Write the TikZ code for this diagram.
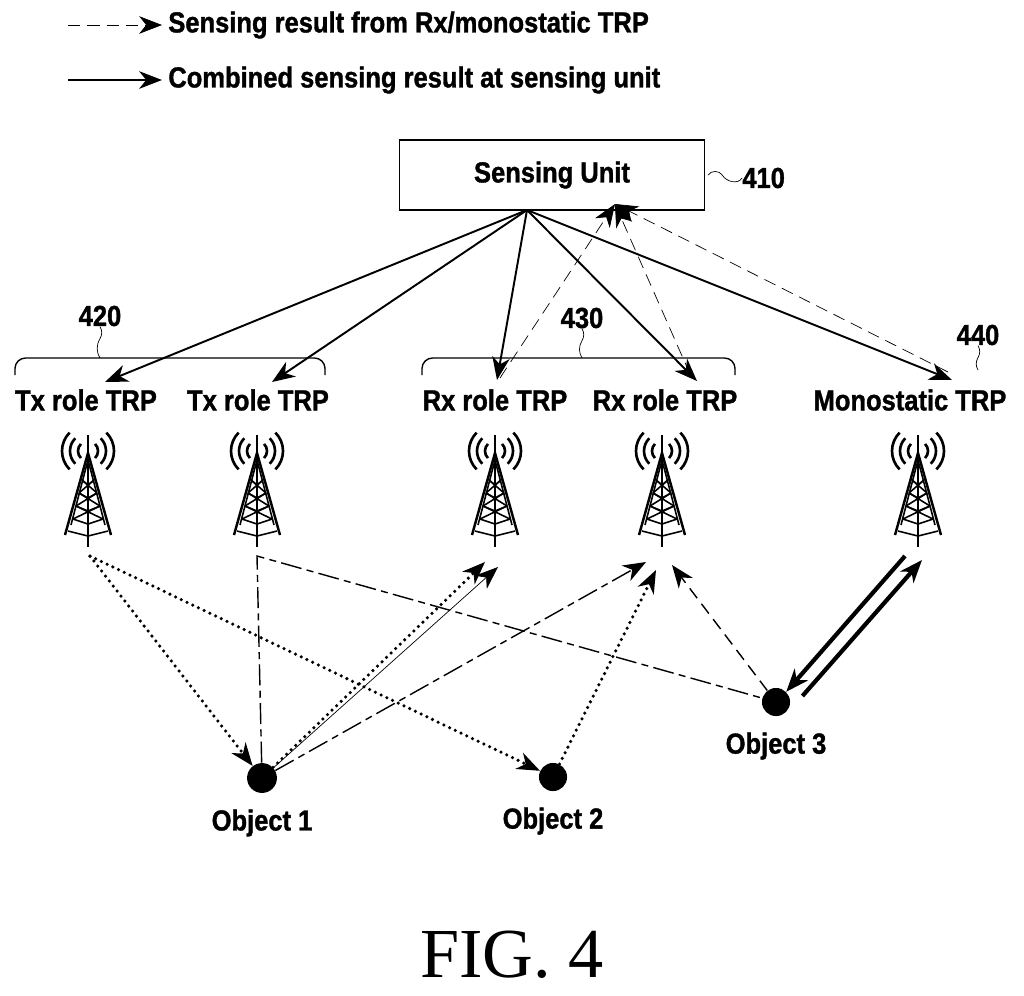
\documentclass[tikz,border=0pt]{standalone}
\usepackage{fontspec}
\setmainfont{Liberation Sans}[FakeStretch=0.88,FakeBold=1.2]
\newfontfamily\figfont{Liberation Serif}
\usetikzlibrary{arrows.meta,positioning}
\begin{document}
\begin{tikzpicture}
    [x=0.02cm,y=-0.02cm,
     lbl/.style={font=\bfseries\fontsize{16.5}{18}\selectfont,inner sep=0pt},
     tip/.style={-{Stealth[length=13pt,width=10pt,inset=4pt]}},
     comb/.style={tip,line width=1.1pt},
     rep/.style={tip,dash pattern=on 7pt off 4pt},
     dots/.style={tip,line width=2pt,dash pattern=on 0pt off 3.6pt,line cap=round},
     dashdot/.style={thick,dash pattern=on 12pt off 3pt on 4pt off 3pt},
     obj/.style={circle,fill=black,minimum size=16pt,inner sep=0pt},
     bracket/.style={thick,rounded corners=6pt},
     pics/tower/.style={code={
       \draw[line width=1.1pt] (0,0) -- (0,112);
       \draw[line width=1.4pt] (-23,100) -- (0,18) -- (23,100);
       \draw[line width=0.9pt] (-17,90) -- (0,25) -- (17,90);
       \foreach \h/\w in {45/6,58/9,71/12,84/15,96/20}
         \draw[line width=0.9pt] (-\w,\h) -- (0,\h+5) -- (\w,\h);
       \draw[line width=0.9pt] (-6,45) -- (9,58) (6,45) -- (-9,58)
         (-9,58) -- (12,71) (9,58) -- (-12,71) (-12,71) -- (15,84) (12,71) -- (-15,84);
       \foreach \r in {10,18,26} {
         \draw[line width=1.5pt] (0,16) ++(45:\r) arc (45:-45:\r);
         \draw[line width=1.5pt] (0,16) ++(135:\r) arc (135:225:\r);}
     }}]
    \useasboundingbox (0,0) rectangle (1024,995);
    % legend
    \coordinate (la1) at (68,25);  \coordinate (la2) at (162,25);
    \coordinate (lb1) at (68,80);  \coordinate (lb2) at (162,80);
    \draw[rep] (la1) -- (la2);
    \draw[comb] (lb1) -- (lb2);
    \node[lbl,anchor=west] (leg1) at (168,25) {Sensing result from Rx/monostatic TRP};
    \node[lbl,anchor=west] (leg2) at (168,80) {Combined sensing result at sensing unit};
    % sensing unit
    \node[draw,thick,lbl,minimum width=6.1cm,minimum height=1.4cm]
      (SU) at (552,175) {Sensing Unit};
    \node[lbl,anchor=west] (n410) at (742,178) {410};
    \draw (SU.east) ++(3,0) to[out=60,in=120] ++(14,0) to[out=-60,in=-120] (n410.west);
    % TRP labels
    \node[lbl] (tx1) at (86,400) {Tx role TRP};
    \node[lbl] (tx2) at (258,400) {Tx role TRP};
    \node[lbl] (rx1) at (495,400) {Rx role TRP};
    \node[lbl] (rx2) at (665,400) {Rx role TRP};
    \node[lbl] (mono) at (910,400) {Monostatic TRP};
    \coordinate (tTx1) at (105,382); \coordinate (tTx2) at (272,382);
    \coordinate (tRx1) at (497,380); \coordinate (tRx2) at (697,381);
    \coordinate (tMono) at (952,380);
    \coordinate (suOut) at (527,210); \coordinate (suIn) at (615,204);
    % brackets
    \draw[bracket] (15,375) -- (15,358) -- (325,358) -- (325,375);
    \draw[bracket] (422,375) -- (422,358) -- (735,358) -- (735,375);
    \node[lbl] (n420) at (100,316) {420};
    \node[lbl] (n430) at (582,318) {430};
    \node[lbl] (n440) at (978,335) {440};
    \draw (n420.south) to[out=-60,in=60] ++(0,12) to[out=-120,in=120] (100,358);
    \draw (n430.south) to[out=-60,in=60] ++(0,12) to[out=-120,in=120] (582,358);
    \draw (n440.south) to[out=-60,in=60] ++(0,12) to[out=-120,in=120] (978,370);
    % towers
    \foreach \x in {88,257,495,662,918}
      \pic at (\x,435) {tower};
    \coordinate (Ta) at (90,556);  \coordinate (Tb) at (257,556);
    \coordinate (Tc1) at (485,562); \coordinate (Tc2) at (498,567);
    \coordinate (Td1) at (646,562); \coordinate (Td2) at (656,570); \coordinate (Td3) at (672,565);
    \coordinate (Te1) at (905,556); \coordinate (Te2) at (922,560);
    % objects
    \node[obj,minimum size=17pt] (o1) at (262,778) {};
    \node[obj] (o2) at (553,777) {};
    \node[obj] (o3) at (776,702) {};
    \node[lbl,below=9pt of o1] {Object 1};
    \node[lbl,below=9pt of o2] {Object 2};
    \node[lbl,below=9pt of o3] {Object 3};
    % combined results
    \foreach \t in {tTx1,tTx2,tRx1,tRx2,tMono}
      \draw[comb] (suOut) -- (\t);
    % reported results
    \draw[rep] (500,378) -- (suIn);
    \draw[rep] (690,374) -- (suIn);
    \draw[rep] (948,372) -- (suIn);
    % signal paths
    \draw[dots] (Ta) -- (o1);
    \draw[dots] (Ta) -- (o2);
    \draw[dashdot] (o1) -- (Tb) -- (o3);
    \draw[dots] (o1) -- (Tc1);
    \draw[tip] (o1) -- (Tc2);
    \draw[dashdot,tip] (o1) -- (Td1);
    \draw[dots] (o2) -- (Td2);
    \draw[rep,thick] (o3) -- (Td3);
    \draw[tip,line width=2.4pt] (Te1) -- (o3.north east);
    \draw[tip,line width=2.4pt] ([shift={(12,-6)}]o3.east) -- (Te2);
    \node[font=\figfont\fontsize{40}{44}\selectfont] (fig) at (512,955) {FIG. 4};
\end{tikzpicture}
\end{document}
